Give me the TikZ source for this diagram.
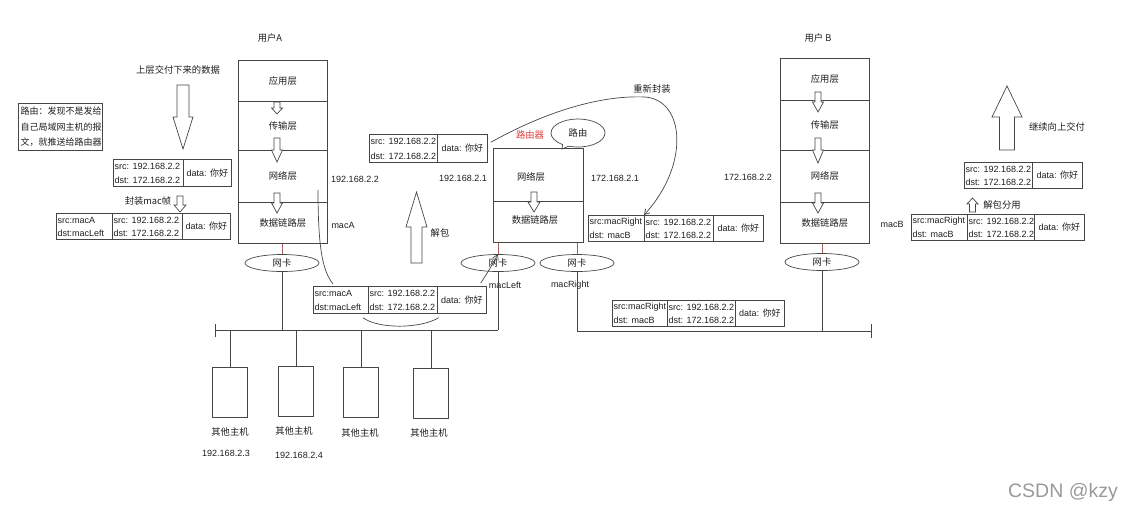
\documentclass[tikz,border=0pt]{standalone}
\usepackage{fontspec}
\setmainfont{Liberation Sans}
\newfontfamily\cjk{Noto Sans CJK SC}
\usetikzlibrary{calc,arrows.meta,shapes.geometric,shapes.callouts}
\definecolor{lncol}{RGB}{70,70,70}
\definecolor{nicred}{RGB}{170,95,95}
\definecolor{routred}{RGB}{220,60,60}
\definecolor{txtcol}{RGB}{30,30,30}

\newcommand\hollowdown[6]{% x, top, tip, shaft half, head half, head length
  \draw[ln, fill=white] ({#1-#4},#2) -- ({#1+#4},#2) -- ({#1+#4},{#3-#6}) -- ({#1+#5},{#3-#6}) -- (#1,#3) -- ({#1-#5},{#3-#6}) -- ({#1-#4},{#3-#6}) -- cycle;}
\newcommand\hollowup[6]{% x, tip, bottom, shaft half, head half, head length
  \draw[ln, fill=white] (#1,#2) -- ({#1+#5},{#2+#6}) -- ({#1+#4},{#2+#6}) -- ({#1+#4},#3) -- ({#1-#4},#3) -- ({#1-#4},{#2+#6}) -- ({#1-#5},{#2+#6}) -- cycle;}
\newcommand\twoline[7]{% name x y w h line1 line2
  \node[cellbox, minimum width=#4pt, minimum height=#5pt] (#1) at (#2,#3) {};
  \node[lbl, anchor=west] (#1s) at ([shift={(1.5pt,-7pt)}]#1.north west) {#6};
  \node[lbl, anchor=west] (#1t) at ([shift={(1.5pt,6.5pt)}]#1.south west) {#7};}
\newcommand\datacell[5]{% name x y w h
  \node[cellbox, minimum width=#4pt, minimum height=#5pt] (#1) at (#2,#3) {data: {\cjk 你好}};}

\begin{document}
\begin{tikzpicture}[x=1pt,y=-1pt,
  font=\fontsize{9}{11}\selectfont,
  ln/.style={draw=lncol, line width=0.7pt},
  cellbox/.style={ln, inner sep=0pt, anchor=north west, text=txtcol},
  lbl/.style={inner sep=0pt, text=txtcol},
  cl/.style={lbl, font=\fontsize{9.3}{11}\selectfont\cjk},
  layer/.style={ln, anchor=north west, inner sep=0pt, minimum width=89pt, font=\fontsize{9.3}{11}\selectfont\cjk, text=txtcol},
  nic/.style={ln, ellipse, minimum width=74pt, minimum height=17pt, inner sep=0pt, font=\fontsize{9.3}{11}\selectfont\cjk, text=txtcol},
  host/.style={ln, anchor=north west, minimum width=35pt, minimum height=50pt, inner sep=0pt},
  nicln/.style={draw=nicred, line width=0.7pt},
  barbend/.style={-{Straight Barb[length=5pt,width=6pt]}}
]
\useasboundingbox (0,0) rectangle (1124,504);

% titles
\node[cl] (uA) at (270,38) {用户A};
\node[cl] (uB) at (818,38) {用户 B};

% note box
\node[ln, anchor=north west, minimum width=84pt, minimum height=47pt, inner sep=0pt] (note) at (18,103) {};
\node[cl, anchor=west, font=\fontsize{9}{11}\selectfont\cjk] (n1) at (20.5,111.5) {路由：发现不是发给};
\node[cl, anchor=west, font=\fontsize{9}{11}\selectfont\cjk] (n2) at (20.5,127) {自己局域网主机的报};
\node[cl, anchor=west, font=\fontsize{9}{11}\selectfont\cjk] (n3) at (20.5,142.5) {文，就推送给路由器};

% left encapsulation
\node[cl] (updown) at (178,70) {上层交付下来的数据};
\hollowdown{183}{85}{149}{6}{10}{32}
\twoline{p1i}{113}{159}{70}{27}{src: 192.168.2.2}{dst: 172.168.2.2}
\datacell{p1d}{183}{159}{48}{27}
\node[cl] (enc) at (148,201) {封装mac帧};
\hollowdown{180}{196}{212}{3}{6}{7}
\twoline{p2m}{56}{213}{56}{26}{src:macA}{dst:macLeft}
\twoline{p2i}{112}{213}{70}{26}{src: 192.168.2.2}{dst: 172.168.2.2}
\datacell{p2d}{182}{213}{48}{26}

% user A stack
\node[layer, minimum height=41pt] (a1) at (238,60) {应用层};
\node[layer, minimum height=49pt] (a2) at (238,101) {传输层};
\node[layer, minimum height=52pt] (a3) at (238,150) {网络层};
\node[layer, minimum height=41pt] (a4) at (238,202) {数据链路层};
\hollowdown{277}{102}{114}{3}{5.5}{6}
\hollowdown{277}{138}{162}{3}{5.5}{12}
\hollowdown{277}{193}{213}{3}{5.5}{10}
\node[lbl] (ipA) at (355,179) {192.168.2.2};
\node[lbl] (macAl) at (343,225) {macA};

% user B stack
\node[layer, minimum height=42pt] (b1) at (780,58) {应用层};
\node[layer, minimum height=50pt] (b2) at (780,100) {传输层};
\node[layer, minimum height=52pt] (b3) at (780,150) {网络层};
\node[layer, minimum height=41pt] (b4) at (780,202) {数据链路层};
\hollowdown{818}{92}{112}{3}{5.5}{10}
\hollowdown{818}{138}{163}{3}{5.5}{13}
\hollowdown{818}{193}{213}{3}{5.5}{10}
\node[lbl] (ipB) at (748,177) {172.168.2.2};
\node[lbl] (macBl) at (892,224) {macB};

% router
\node[layer, minimum width=90pt, minimum height=53pt] (r1) at (493,148) {};
\node[layer, minimum width=90pt, minimum height=41pt] (r2) at (493,201) {};
\node[cl] (r1t) at (531,177) {网络层};
\node[cl] (r2t) at (535,220) {数据链路层};
\hollowdown{534}{192}{212}{3}{6}{10}
\node[cl, text=routred] (rtr) at (530,135) {路由器};
\node[ln, ellipse callout, callout absolute pointer={(562,149)}, minimum width=54pt, minimum height=28pt, inner sep=0pt, font=\fontsize{9.3}{11}\selectfont\cjk, text=txtcol] (route) at (578,133) {路由};
\node[lbl] (ipR1) at (463,178) {192.168.2.1};
\node[lbl] (ipR2) at (615,178) {172.168.2.1};

% NICs
\node[nic] (nicA) at (282,263) {网卡};
\node[nic] (nicL) at (498,263) {网卡};
\node[nic] (nicR) at (577,263) {网卡};
\node[nic] (nicB) at (822,262) {网卡};
\node[lbl] (mL) at (505,285) {macLeft};
\node[lbl] (mR) at (570,285) {macRight};
\draw[nicln] (nicA.north |- a4.south) -- (nicA.north);
\draw[nicln] (nicL.north |- r2.south) -- (nicL.north);
\draw[nicln] (nicR.north |- r2.south) -- (nicR.north);
\draw[nicln] (nicB.north |- b4.south) -- (nicB.north);

% buses
\coordinate (busL) at (215,330);
\coordinate (busR) at (871,331);
\draw[ln] (busL) -- (nicL.south |- busL);
\draw[ln] ([yshift=6pt]busL) -- ([yshift=-7pt]busL);
\draw[ln] (nicA.south) -- (nicA.south |- busL);
\draw[ln] (nicL.south) -- (nicL.south |- busL);
\draw[ln] (nicR.south |- busR) -- (busR);
\draw[ln] ([yshift=7pt]busR) -- ([yshift=-7pt]busR);
\draw[ln] (nicR.south) -- (nicR.south |- busR);
\draw[ln] (nicB.south) -- (nicB.south |- busR);

% hosts
\node[host] (h1) at (212,367) {};
\node[host] (h2) at (278,366) {};
\node[host] (h3) at (343,367) {};
\node[host] (h4) at (413,368) {};
\foreach \h in {h1,h2,h3,h4} \draw[ln] (\h.north |- busL) -- (\h.north);
\node[cl] (h1l) at (230,432) {其他主机};
\node[cl] (h2l) at (294,431) {其他主机};
\node[cl] (h3l) at (360,433) {其他主机};
\node[cl] (h4l) at (429,433) {其他主机};
\node[lbl] (h1ip) at (226,453) {192.168.2.3};
\node[lbl] (h2ip) at (299,455) {192.168.2.4};

% packet on left bus
\twoline{p3m}{313}{286}{55}{27}{src:macA}{dst:macLeft}
\twoline{p3i}{368}{286}{69}{27}{src: 192.168.2.2}{dst: 172.168.2.2}
\datacell{p3d}{437}{286}{49}{27}
\coordinate (cA) at (318,190);
\draw[ln] (cA) .. controls (318,255) and (324,272) .. ([xshift=20pt,yshift=2pt]p3m.north west);
\draw[ln] ([xshift=50pt,yshift=-4pt]p3m.south west) .. controls (378,329) and (420,329) .. ([xshift=1pt,yshift=-4pt]p3i.south east);
\draw[ln,barbend] ([xshift=-6pt,yshift=3pt]p3d.north east) .. controls (488,272) and (494,262) .. (nicL.north);

% unpack at router
\hollowup{416.5}{192}{263}{5.5}{10.5}{35}
\node[cl] (unp) at (440,233) {解包};
\twoline{p4i}{369}{134}{68}{28}{src: 192.168.2.2}{dst: 172.168.2.2}
\datacell{p4d}{437}{134}{50}{28}

% re-encapsulation
\twoline{p5m}{588}{215}{56}{26}{src:macRight}{dst: macB}
\twoline{p5i}{644}{215}{69}{26}{src: 192.168.2.2}{dst: 172.168.2.2}
\datacell{p5d}{713}{215}{50}{26}
\draw[ln,barbend] ([xshift=3pt,yshift=6pt]p4d.east) .. controls (545,112) and (600,95) .. (645,97) .. controls (685,100) and (690,165) .. (p5i.north west);
\node[cl] (reenc) at (652,89) {重新封装};

% packet on right bus
\twoline{p6m}{612}{300}{55}{26}{src:macRight}{dst: macB}
\twoline{p6i}{667}{300}{68}{26}{src: 192.168.2.2}{dst: 172.168.2.2}
\datacell{p6d}{735}{300}{49}{26}

% right side decapsulation
\twoline{p7m}{911}{214}{56}{26}{src:macRight}{dst: macB}
\twoline{p7i}{967}{214}{67}{26}{src: 192.168.2.2}{dst: 172.168.2.2}
\datacell{p7d}{1034}{214}{50}{26}
\hollowup{972.5}{198}{212}{3}{5.5}{6}
\node[cl] (demux) at (1002,205) {解包分用};
\twoline{p8i}{964}{162}{68}{26}{src: 192.168.2.2}{dst: 172.168.2.2}
\datacell{p8d}{1032}{162}{50}{26}
\hollowup{1007}{86}{150}{7.5}{15}{31}
\node[cl] (upd) at (1057,127) {继续向上交付};

% watermark
\node[lbl, text=black!40, font=\fontsize{19.5}{21}\selectfont] (wm) at (1063,492) {CSDN @kzy};
\end{tikzpicture}
\end{document}
